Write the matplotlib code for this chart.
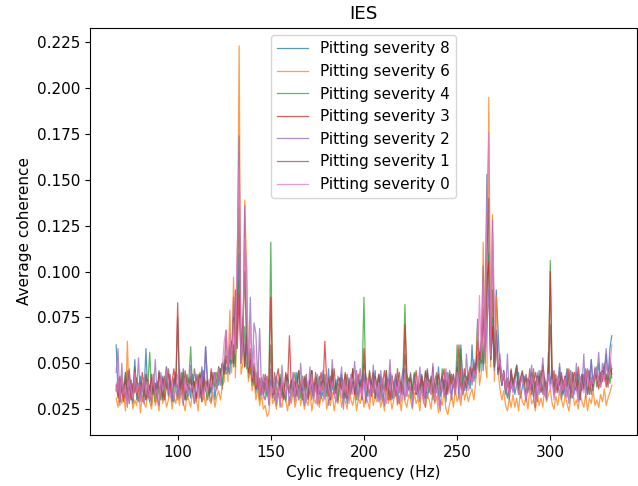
import numpy as np
import matplotlib.pyplot as plt

plt.rcParams['font.size'] = 11

# Frecuencia ciclica (Hz), un punto por Hz
freqs = np.arange(67, 334)

# Coherencia media x1000 por severidad (20 valores por fila)
sev8 = [60, 34, 29, 42, 37, 31, 46, 28, 39, 33, 52, 30, 36, 43, 29, 35, 58, 31, 38, 27,
        44, 33, 40, 36, 30, 43, 37, 48, 35, 41, 29, 38, 45, 32, 39, 34, 47, 30, 36, 42,
        31, 44, 37, 29, 40, 35, 48, 33, 59, 38, 32, 36, 45, 30, 41, 38, 47, 36, 52, 46,
        50, 44, 62, 48, 58, 70, 110, 52, 75, 48, 60, 42, 52, 38, 46, 34, 41, 30, 38, 33,
        30, 37, 28, 41, 33, 39, 27, 36, 42, 31, 38, 29, 44, 34, 40, 32, 37, 45, 30, 38,
        35, 42, 29, 37, 33, 46, 31, 39, 28, 43, 36, 32, 40, 34, 47, 30, 38, 33, 41, 29,
        39, 44, 31, 36, 28, 42, 35, 47, 33, 38, 30, 41, 36, 44, 29, 37, 32, 40, 35, 46,
        31, 38, 43, 29, 36, 40, 33, 45, 30, 37, 42, 34, 28, 39, 35, 47, 32, 41, 36, 30,
        44, 33, 38, 29, 41, 35, 46, 31, 37, 43, 30, 39, 34, 48, 32, 36, 41, 29, 45, 38,
        33, 40, 36, 47, 31, 60, 38, 44, 35, 42, 36, 60, 40, 48, 74, 45, 62, 46, 80, 153,
        95, 52, 70, 48, 90, 67, 45, 38, 44, 36, 31, 40, 36, 42, 33, 39, 45, 31, 37, 43,
        30, 38, 35, 44, 32, 40, 29, 46, 34, 37, 42, 31, 56, 39, 45, 33, 41, 36, 48, 30,
        37, 43, 32, 39, 46, 31, 38, 35, 44, 30, 41, 36, 47, 33, 40, 52, 37, 45, 42, 50,
        39, 46, 44, 55, 41, 58, 65]
sev6 = [31, 26, 37, 28, 33, 24, 62, 29, 35, 25, 30, 27, 38, 23, 32, 28, 26, 34, 29, 25,
        36, 27, 31, 24, 39, 28, 33, 26, 30, 37, 25, 32, 28, 35, 27, 40, 29, 24, 33, 30,
        26, 35, 28, 31, 24, 38, 29, 33, 27, 36, 30, 28, 34, 26, 32, 35, 30, 38, 40, 68,
        40, 79, 45, 97, 42, 98, 223, 44, 50, 139, 103, 40, 48, 35, 42, 30, 36, 27, 33, 25,
        27, 21, 23, 36, 28, 31, 25, 34, 29, 26, 37, 30, 24, 32, 28, 35, 26, 31, 38, 27,
        33, 25, 30, 27, 36, 24, 31, 28, 35, 26, 32, 29, 38, 25, 30, 27, 34, 24, 31, 28,
        36, 26, 32, 29, 25, 37, 30, 27, 34, 24, 31, 28, 35, 26, 33, 29, 25, 38, 27, 32,
        29, 34, 26, 31, 24, 36, 28, 33, 25, 30, 38, 27, 32, 24, 35, 29, 26, 33, 30, 25,
        34, 28, 31, 24, 37, 29, 26, 33, 30, 25, 36, 28, 32, 23, 30, 27, 35, 25, 22, 28,
        33, 26, 36, 29, 32, 27, 38, 30, 35, 29, 33, 36, 30, 40, 73, 38, 45, 116, 50, 42,
        195, 48, 131, 40, 87, 45, 36, 30, 35, 27, 24, 31, 26, 33, 26, 31, 24, 35, 29, 27,
        32, 25, 36, 28, 30, 24, 34, 27, 31, 26, 38, 29, 33, 36, 28, 25, 32, 27, 35, 30,
        26, 33, 28, 24, 31, 36, 27, 30, 25, 34, 29, 26, 33, 24, 31, 28, 35, 27, 30, 26,
        33, 29, 36, 27, 31, 34, 38]
sev4 = [35, 41, 29, 38, 32, 45, 30, 37, 34, 28, 43, 33, 39, 31, 36, 42, 30, 38, 56, 33,
        40, 29, 37, 33, 41, 30, 36, 44, 32, 38, 35, 29, 42, 37, 31, 39, 45, 33, 30, 41,
        59, 34, 40, 31, 38, 45, 33, 41, 36, 30, 39, 34, 42, 37, 45, 40, 47, 38, 50, 44,
        46, 52, 50, 60, 48, 80, 95, 50, 58, 70, 47, 54, 44, 48, 38, 45, 36, 42, 33, 40,
        38, 32, 42, 116, 35, 40, 31, 37, 44, 33, 39, 30, 42, 36, 32, 40, 45, 34, 38, 31,
        43, 35, 39, 30, 41, 46, 33, 38, 36, 42, 31, 44, 37, 32, 40, 35, 47, 33, 39, 30,
        42, 36, 31, 44, 38, 33, 40, 46, 35, 30, 41, 37, 43, 86, 36, 32, 45, 39, 34, 41,
        37, 43, 30, 39, 35, 46, 33, 41, 36, 31, 44, 38, 34, 40, 47, 82, 36, 42, 31, 38,
        45, 33, 40, 36, 42, 30, 38, 46, 34, 41, 37, 32, 43, 39, 35, 47, 33, 40, 36, 44,
        38, 42, 34, 60, 44, 58, 40, 36, 43, 38, 45, 40, 48, 42, 55, 46, 62, 50, 66, 88,
        110, 52, 75, 48, 62, 44, 50, 38, 45, 34, 40, 31, 44, 35, 41, 46, 33, 39, 43, 37,
        34, 41, 36, 45, 32, 39, 43, 35, 40, 46, 33, 38, 42, 106, 44, 37, 41, 35, 45, 39,
        33, 40, 47, 36, 42, 34, 39, 45, 31, 38, 44, 36, 41, 33, 46, 39, 35, 43, 48, 40,
        37, 44, 50, 41, 46, 39, 47]
sev3 = [38, 31, 43, 35, 29, 41, 33, 46, 30, 39, 34, 42, 36, 32, 45, 37, 30, 41, 35, 44,
        33, 39, 31, 45, 36, 42, 30, 38, 44, 34, 40, 47, 37, 83, 35, 41, 32, 46, 38, 36,
        43, 35, 40, 31, 37, 44, 33, 46, 38, 41, 34, 47, 39, 45, 36, 48, 42, 50, 44, 52,
        48, 55, 62, 50, 90, 58, 88, 52, 72, 48, 66, 45, 55, 40, 48, 36, 44, 33, 41, 36,
        44, 36, 41, 86, 38, 33, 42, 47, 35, 40, 31, 45, 38, 65, 36, 43, 32, 39, 46, 35,
        41, 37, 44, 31, 39, 46, 35, 42, 33, 38, 45, 36, 62, 40, 32, 43, 37, 47, 34, 39,
        35, 42, 38, 45, 31, 40, 36, 47, 33, 39, 44, 37, 30, 58, 41, 35, 46, 32, 40, 43,
        37, 44, 32, 39, 46, 35, 41, 30, 43, 38, 34, 47, 36, 40, 33, 71, 45, 38, 42, 35,
        40, 46, 34, 38, 43, 31, 45, 37, 41, 35, 48, 32, 39, 44, 36, 42, 47, 33, 40, 37,
        44, 38, 33, 45, 60, 41, 36, 47, 39, 44, 48, 42, 50, 45, 62, 52, 58, 75, 56, 95,
        105, 55, 70, 48, 66, 45, 50, 38, 45, 35, 41, 33, 46, 37, 43, 48, 35, 41, 45, 38,
        42, 36, 47, 33, 40, 45, 38, 43, 35, 49, 41, 37, 44, 100, 39, 46, 34, 42, 38, 45,
        36, 43, 39, 47, 34, 41, 45, 37, 48, 40, 35, 44, 39, 46, 33, 42, 38, 47, 41, 36,
        45, 40, 48, 37, 43, 50, 44]
sev2 = [45, 58, 27, 50, 31, 39, 26, 47, 33, 29, 42, 36, 53, 30, 39, 28, 44, 34, 29, 41,
        37, 52, 31, 27, 45, 35, 39, 48, 33, 44, 29, 41, 36, 30, 47, 34, 27, 42, 38, 32,
        49, 35, 28, 44, 38, 31, 46, 36, 59, 42, 33, 29, 40, 45, 37, 44, 38, 50, 46, 68,
        45, 60, 50, 86, 56, 109, 174, 50, 62, 136, 60, 48, 86, 44, 72, 66, 40, 69, 36, 44,
        33, 41, 27, 47, 35, 30, 43, 38, 26, 49, 34, 31, 41, 27, 36, 45, 29, 38, 32, 50,
        36, 27, 42, 33, 48, 30, 39, 35, 44, 28, 37, 46, 31, 40, 27, 35, 52, 33, 29, 43,
        38, 48, 25, 41, 34, 30, 44, 36, 51, 33, 39, 47, 30, 45, 28, 37, 42, 33, 49, 31,
        40, 29, 46, 35, 27, 43, 38, 52, 31, 36, 44, 28, 41, 33, 47, 30, 39, 35, 45, 26,
        42, 37, 31, 48, 34, 40, 26, 45, 38, 33, 50, 29, 41, 36, 24, 44, 32, 47, 35, 39,
        30, 44, 36, 51, 33, 39, 47, 35, 55, 40, 46, 38, 52, 44, 50, 55, 62, 103, 50, 70,
        90, 52, 128, 46, 66, 44, 55, 38, 46, 33, 55, 30, 46, 34, 41, 49, 33, 39, 44, 36,
        29, 42, 37, 49, 31, 26, 45, 33, 40, 53, 36, 30, 44, 38, 47, 32, 41, 36, 50, 34,
        41, 32, 47, 28, 37, 45, 33, 50, 29, 42, 36, 55, 31, 46, 39, 52, 35, 48, 43, 56,
        38, 50, 44, 58, 41, 53, 47]
sev1 = [36, 42, 31, 39, 34, 45, 30, 37, 41, 33, 48, 35, 29, 40, 38, 32, 44, 37, 30, 42,
        35, 39, 33, 46, 38, 31, 43, 36, 47, 40, 34, 42, 37, 75, 33, 45, 38, 30, 44, 36,
        41, 34, 47, 39, 44, 36, 29, 42, 35, 40, 33, 45, 38, 44, 36, 48, 42, 50, 46, 54,
        52, 60, 55, 75, 58, 80, 135, 55, 70, 100, 60, 52, 58, 45, 50, 40, 46, 36, 42, 33,
        38, 43, 34, 60, 31, 45, 36, 33, 42, 37, 30, 44, 39, 34, 41, 35, 40, 32, 46, 37,
        30, 43, 39, 34, 41, 36, 31, 45, 38, 33, 40, 35, 44, 37, 42, 30, 46, 36, 33, 41,
        42, 36, 39, 31, 44, 37, 33, 40, 35, 46, 32, 38, 41, 50, 43, 37, 34, 40, 45, 31,
        38, 44, 33, 41, 35, 46, 30, 39, 43, 36, 32, 40, 45, 34, 38, 55, 41, 36, 44, 33,
        37, 33, 41, 35, 44, 38, 31, 47, 36, 42, 34, 40, 45, 30, 39, 43, 36, 41, 33, 46,
        39, 44, 35, 48, 42, 38, 33, 41, 37, 44, 40, 47, 45, 50, 52, 56, 50, 80, 58, 110,
        140, 52, 90, 48, 68, 46, 52, 40, 46, 37, 42, 33, 47, 38, 44, 49, 36, 42, 46, 39,
        44, 34, 41, 36, 47, 30, 43, 38, 46, 33, 40, 35, 45, 71, 42, 37, 44, 34, 39, 43,
        34, 40, 37, 43, 31, 45, 38, 35, 41, 30, 44, 36, 39, 47, 42, 33, 40, 45, 37, 43,
        39, 46, 41, 44, 37, 48, 42]
sev0 = [35, 42, 30, 43, 33, 38, 28, 41, 36, 31, 45, 34, 39, 29, 37, 42, 33, 40, 30, 37,
        44, 32, 36, 29, 42, 35, 39, 46, 38, 31, 40, 30, 37, 44, 32, 36, 29, 42, 35, 39,
        36, 38, 33, 40, 31, 42, 36, 30, 39, 34, 41, 37, 38, 44, 35, 47, 40, 48, 62, 68,
        48, 66, 52, 72, 55, 109, 157, 50, 64, 118, 103, 48, 70, 42, 60, 38, 48, 33, 42, 31,
        31, 42, 29, 38, 34, 41, 30, 38, 27, 43, 35, 32, 40, 36, 29, 45, 33, 39, 31, 37,
        42, 33, 29, 40, 35, 44, 31, 38, 27, 41, 34, 39, 30, 43, 37, 32, 40, 35, 29, 38,
        36, 31, 41, 34, 38, 28, 43, 33, 39, 45, 30, 37, 32, 40, 35, 42, 29, 38, 34, 41,
        33, 39, 30, 42, 36, 28, 40, 35, 44, 31, 38, 34, 41, 29, 37, 45, 32, 40, 36, 30,
        39, 34, 43, 31, 37, 28, 42, 35, 40, 33, 45, 30, 38, 27, 41, 36, 32, 39, 44, 34,
        37, 41, 33, 45, 38, 30, 36, 42, 40, 35, 44, 39, 46, 42, 50, 87, 52, 94, 56, 140,
        176, 54, 120, 85, 58, 48, 52, 40, 45, 36, 41, 33, 40, 35, 41, 38, 33, 39, 43, 36,
        31, 40, 35, 43, 37, 29, 42, 34, 39, 45, 32, 38, 44, 36, 41, 30, 37, 43, 33, 40,
        35, 42, 31, 39, 45, 33, 40, 36, 29, 43, 38, 34, 41, 46, 37, 42, 39, 44, 48, 41,
        37, 45, 40, 50, 43, 47, 60]

series = [sev8, sev6, sev4, sev3, sev2, sev1, sev0]
labels = ['Pitting severity 8', 'Pitting severity 6', 'Pitting severity 4',
          'Pitting severity 3', 'Pitting severity 2', 'Pitting severity 1',
          'Pitting severity 0']

fig = plt.figure(figsize=(6.38, 4.86), dpi=100)
for vals, lab in zip(series, labels):
    plt.plot(freqs, np.array(vals) / 1000, linewidth=0.9, alpha=0.75, label=lab)
plt.xlim(53.1, 346.4)
plt.xlabel('Cylic frequency (Hz)')
plt.ylabel('Average coherence')
plt.title('IES')
plt.legend(loc='upper center')
plt.subplots_adjust(left=0.1415, right=0.998, top=0.9434, bottom=0.105)
plt.savefig('out.png')
